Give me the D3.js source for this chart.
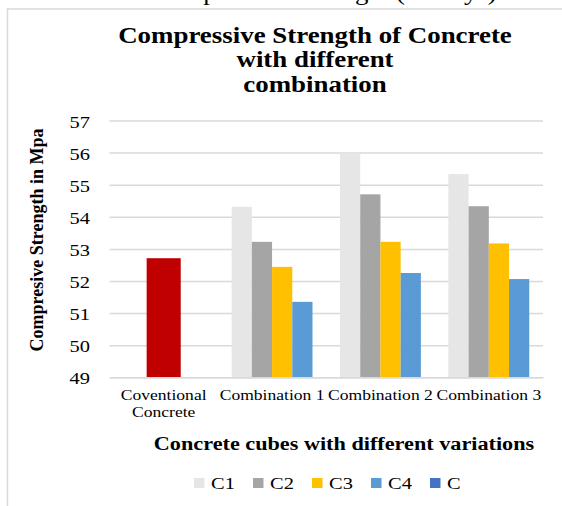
<!DOCTYPE html>
<html>
<head>
<meta charset="utf-8">
<script src="https://cdn.jsdelivr.net/npm/d3@7/dist/d3.min.js"></script>
<style>
  html, body { margin: 0; padding: 0; background: #ffffff; }
  svg text { font-family: "Liberation Serif", "Times New Roman", "DejaVu Serif", serif; fill: #000; }
</style>
</head>
<body>
<script>
// chart data
const categories = ["Coventional\nConcrete", "Combination 1", "Combination 2", "Combination 3"]
const seriesNames = ["C1", "C2", "C3", "C4", "C"]
const c1Values = [null, 54.31, 56.0, 55.33]
const c2Values = [null, 53.22, 54.7, 54.33]
const c3Values = [null, 52.44, 53.22, 53.17]
const c4Values = [null, 51.35, 52.25, 52.06]
const cValues = [52.71, null, null, null]
const yTicks = [49, 50, 51, 52, 53, 54, 55, 56, 57]
const titleLines = ["Compressive Strength of Concrete", "with different", "combination"]
const captionAbove = "Compressive Strength (28 days)"
const yTitle = "Compresive Strength in Mpa"
const xTitle = "Concrete cubes with different variations"

const seriesColors = ["#e7e6e6", "#a5a5a5", "#ffc000", "#5b9bd5", "#4472c4"]
const conventionalColor = "#c00000"

document.addEventListener("DOMContentLoaded", () => {
    const svgWidth = 562
    const svgHeight = 506
    const sx = 1.17 // the source picture is stretched sideways
    const serif = '"Liberation Serif", "Times New Roman", "DejaVu Serif", serif'

    const svg = d3.select("body").append("svg")
        .attr("width", svgWidth)
        .attr("height", svgHeight)

    const stretch = (sel, x, y) => sel.attr("transform", `translate(${x},${y}) scale(${sx},1)`)

    /* text cut off at the top and the frame of the chart */
    svg.append("text")
        .text(captionAbove)
        .style("font-family", serif)
        .style("font-size", "23px")
        .call(stretch, 151, -0.5)

    svg.append("path")
        .attr("d", `M7.5,${svgHeight} V9 H${svgWidth}`)
        .attr("fill", "none")
        .attr("stroke", "#d9d9d9")
        .attr("stroke-width", 1.5)

    /* title */
    titleLines.forEach((line, i) => {
        svg.append("text")
            .text(line)
            .attr("text-anchor", "middle")
            .style("font-family", serif)
            .style("font-size", "23px")
            .style("font-weight", "bold")
            .call(stretch, 315, 42.5 + i * 24.5)
    })

    /* scales */
    const plotLeft = 109.5
    const plotRight = 543
    const plotTop = 120.5
    const plotBottom = 377.3

    const xScale = d3.scaleBand()
        .domain(categories)
        .range([plotLeft, plotRight])

    const innerScale = d3.scaleBand()
        .domain(seriesNames.slice(0, 4))
        .range([0, xScale.bandwidth()])
        .paddingOuter(0.68)

    const singleScale = d3.scaleBand()
        .domain(["C"])
        .range([0, xScale.bandwidth()])
        .paddingOuter(1.09)

    const yScale = d3.scaleLinear()
        .domain([49, 57])
        .range([plotBottom, plotTop])

    /* gridlines and y axis */
    const yAxis = d3.axisLeft(yScale)
        .tickValues(yTicks)
        .tickSize(-(plotRight - plotLeft))
        .tickFormat(d3.format("d"))

    const yAxisG = svg.append("g")
        .attr("transform", `translate(${plotLeft},0)`)
        .call(yAxis)
        .attr("font-family", null)
        .attr("font-size", null)
    yAxisG.select(".domain").remove()
    yAxisG.selectAll("line")
        .attr("stroke", "#d9d9d9")
        .attr("stroke-width", 1.5)
    yAxisG.selectAll("text")
        .attr("x", 0)
        .attr("dy", "0.38em")
        .attr("text-anchor", "end")
        .style("font-family", serif)
        .style("font-size", "17.5px")
        .call(stretch, -19.5, 0)

    /* bars */
    const seriesValues = [c1Values, c2Values, c3Values, c4Values]
    const barData = []
    seriesValues.forEach((values, s) => {
        values.forEach((v, c) => {
            if (v !== null) {
                barData.push({ category: categories[c], series: seriesNames[s], value: v, color: seriesColors[s], inner: innerScale })
            }
        })
    })
    cValues.forEach((v, c) => {
        if (v !== null) {
            barData.push({ category: categories[c], series: "C", value: v, color: conventionalColor, inner: singleScale })
        }
    })

    svg.selectAll("rect.bar")
        .data(barData)
        .enter()
        .append("rect")
        .attr("class", "bar")
        .attr("x", (d) => xScale(d.category) + d.inner(d.series))
        .attr("width", (d) => d.inner.bandwidth())
        .attr("y", (d) => yScale(d.value))
        .attr("height", (d) => yScale(49) - yScale(d.value))
        .attr("fill", (d) => d.color)

    /* x axis */
    const xAxis = d3.axisBottom(xScale).tickSize(0).tickFormat("")
    const xAxisG = svg.append("g")
        .attr("transform", `translate(0,${plotBottom})`)
        .call(xAxis)
    xAxisG.select(".domain").attr("stroke", "#d9d9d9").attr("stroke-width", 1.5)

    categories.forEach((cat) => {
        const lines = cat.split("\n")
        lines.forEach((line, i) => {
            svg.append("text")
                .text(line)
                .attr("text-anchor", "middle")
                .style("font-family", serif)
                .style("font-size", "15px")
                .call(stretch, xScale(cat) + xScale.bandwidth() / 2, 400 + i * 16.5)
        })
    })

    /* axis titles */
    svg.append("text")
        .text(xTitle)
        .attr("text-anchor", "middle")
        .style("font-family", serif)
        .style("font-size", "19px")
        .style("font-weight", "bold")
        .call(stretch, 344, 449.5)

    svg.append("text")
        .text(yTitle)
        .attr("text-anchor", "middle")
        .attr("transform", `translate(43,240) rotate(-90)`)
        .style("font-family", serif)
        .style("font-size", "18px")
        .style("font-weight", "bold")

    /* legend */
    const legendStart = 194
    const legendStep = 59
    const legend = svg.selectAll("g.legend-item")
        .data(seriesNames)
        .enter()
        .append("g")
        .attr("class", "legend-item")
        .attr("transform", (d, i) => `translate(${legendStart + i * legendStep},483)`)

    legend.append("rect")
        .attr("x", 0)
        .attr("y", -5)
        .attr("width", 10.5)
        .attr("height", 10)
        .attr("fill", (d, i) => seriesColors[i])

    legend.append("text")
        .text((d) => d)
        .style("font-family", serif)
        .style("font-size", "17.5px")
        .call(stretch, 17, 6)
})
</script>
</body>
</html>
